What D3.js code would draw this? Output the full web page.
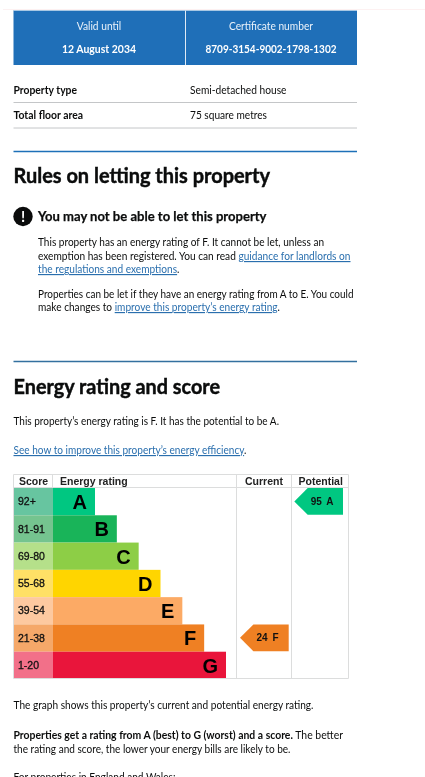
<!DOCTYPE html>
<html><head><meta charset="utf-8">
<script src="https://cdn.jsdelivr.net/npm/d3@7/dist/d3.min.js"></script>
<style>
html,body{margin:0;padding:0;background:#fff;overflow:hidden}
svg{display:block;filter:blur(.35px)}
text{font-family:"Lato",sans-serif;fill:#0b0c0c}
.chart text{font-family:"Liberation Sans",Arial,sans-serif;fill:#111}
</style></head><body>
<script>
const ratingBands = ["A","B","C","D","E","F","G"];
const scoreLabels = ["92+","81-91","69-80","55-68","39-54","21-38","1-20"];
const bandMinScores = [92,81,69,55,39,21,1];
const bandRanks = [1,2,3,4,5,6,7];
const bandColours = ["#00c781","#19b459","#8dce46","#ffd500","#fcaa65","#ef8023","#e9153b"];
const scoreCellColours = ["#67c5a0","#75c48f","#b5e08a","#ffe066","#fdc9a0","#f5a869","#f27089"];
const columnHeaders = ["Score","Energy rating","Current","Potential"];
const currentScore = [24];
const potentialScore = [95];

const svg = d3.select("body").append("svg").attr("width",425).attr("height",777);
const blue="#1d70b8", link="#2a6fae", rule="#c4c6c8", S=11.6;

function T(parts,x,y,size,width,o={}){
  if(typeof parts==="string") parts=[{s:parts,bold:o.bold,link:o.link}];
  const t=svg.append("text").attr("x",x).attr("y",y).attr("font-size",size).attr("text-anchor",o.anchor||"start");
  parts.forEach(p=>{
    const sp=t.append("tspan").attr("font-weight",p.bold?700:400).text(p.s);
    if(p.link) sp.style("fill",link).attr("text-decoration","underline");
    if(o.fill) sp.style("fill",o.fill);
  });
  if(width) t.attr("textLength",width).attr("lengthAdjust","spacingAndGlyphs");
  if(o.heavy) t.style("stroke","#0b0c0c").style("stroke-width",o.heavy);
  return t;
}
function H(x1,x2,y,c,w){svg.append("line").attr("x1",x1).attr("x2",x2).attr("y1",y).attr("y2",y).attr("stroke",c).attr("stroke-width",w);}

// top strip and certificate panel
H(3,425,9.5,"#fdf1f1",1);
svg.append("rect").attr("x",13.5).attr("y",10.5).attr("width",343.5).attr("height",54.5).attr("fill","#1f6fb8");
H(13.5,357,10.5,"#a8c8e4",1);
svg.append("line").attr("x1",185.5).attr("x2",185.5).attr("y1",10.5).attr("y2",65).attr("stroke","#dfeaf5").attr("stroke-width",1);
T("Valid until",99,30,S,44.5,{anchor:"middle",fill:"#eaf2fa"});
T("12 August 2034",99,52.5,S,74,{anchor:"middle",bold:true,fill:"#fff"});
T("Certificate number",271,30,S,84,{anchor:"middle",fill:"#eaf2fa"});
T("8709-3154-9002-1798-1302",271,52.5,S,131,{anchor:"middle",bold:true,fill:"#fff"});

// summary list
T("Property type",13.5,94,S,63.5,{bold:true});
T("Semi-detached house",190,94,S,96.5);
H(13.5,357,102.5,rule,1);
T("Total floor area",13.5,119,S,69.5,{bold:true});
T("75 square metres",190,119,S,77);
H(13.5,357,128,rule,1);

// Rules section
H(13.5,357,151.5,blue,1.6);
T("Rules on letting this property",13.5,183,21,256.5,{bold:true,heavy:.45});
svg.append("circle").attr("cx",23).attr("cy",216.5).attr("r",9.7).attr("fill","#0b0c0c");
T("!",23,222,15,null,{bold:true,anchor:"middle",fill:"#fff"});
T("You may not be able to let this property",38,221,13.5,228.5,{bold:true,heavy:.25});
T("This property has an energy rating of F. It cannot be let, unless an",38,246,S,286);
T([{s:"exemption has been registered. You can read "},{s:"guidance for landlords on",link:true}],38,260,S,312.5);
T([{s:"the regulations and exemptions",link:true},{s:"."}],38,273,S,141.5);
T("Properties can be let if they have an energy rating from A to E. You could",38,297.5,S,315.5);
T([{s:"make changes to "},{s:"improve this property\u2019s energy rating",link:true},{s:"."}],38,311,S,242);

// Energy section
H(13.5,357,361.5,"#33709f",1.4);
T("Energy rating and score",13.5,394,21,206.5,{bold:true,heavy:.45});
T("This property\u2019s energy rating is F. It has the potential to be A.",13.5,425,S,265.5);
T([{s:"See how to improve this property\u2019s energy efficiency",link:true},{s:"."}],13.5,454,S,233);

// EPC chart
const chart=svg.append("g").attr("class","chart");
const y=d3.scaleBand().domain(ratingBands).range([488,679]);
const x=d3.scaleLinear().domain([1,7]).range([95,226]);
const bandOf=d3.scaleThreshold().domain(bandMinScores.slice().reverse().slice(1)).range(ratingBands.slice().reverse());
const grid="#dcdddd";
const colX=[13.5,52.5,236.5,291.5,348.5];

chart.selectAll(".cell").data(ratingBands).join("rect").attr("class","cell")
  .attr("x",14).attr("width",39).attr("y",d=>y(d)).attr("height",y.bandwidth())
  .attr("fill",(d,i)=>scoreCellColours[i]);
chart.selectAll(".bar").data(ratingBands).join("rect").attr("class","bar")
  .attr("x",53).attr("y",d=>y(d)).attr("height",y.bandwidth())
  .attr("width",(d,i)=>x(bandRanks[i])-53).attr("fill",(d,i)=>bandColours[i]);
chart.selectAll(".score").data(scoreLabels).join("text").attr("class","score")
  .attr("x",18).attr("y",(d,i)=>y(ratingBands[i])+y.bandwidth()/2+3.6)
  .attr("font-size",10.5).attr("font-weight",400).style("stroke","#111").style("stroke-width",.3).text(d=>d);
chart.selectAll(".letter").data(ratingBands).join("text").attr("class","letter")
  .attr("x",(d,i)=>x(bandRanks[i])-8).attr("y",d=>y(d)+y.bandwidth()/2+7.3)
  .attr("text-anchor","end").attr("font-size",20).attr("font-weight",700).style("fill","#000").text(d=>d);

[0,2,3,4].forEach(i=>chart.append("line").attr("x1",colX[i]).attr("x2",colX[i]).attr("y1",474.5).attr("y2",678.5).attr("stroke",grid));
chart.append("line").attr("x1",52.5).attr("x2",52.5).attr("y1",474.5).attr("y2",488).attr("stroke",grid);
[474.5,487.5,678.5].forEach(v=>chart.append("line").attr("x1",13.5).attr("x2",348.5).attr("y1",v).attr("y2",v).attr("stroke",grid));

const headX=[19,60,245,298.5];
chart.selectAll(".head").data(columnHeaders).join("text").attr("class","head")
  .attr("x",(d,i)=>headX[i]).attr("y",485).attr("font-size",10.5).attr("font-weight",700).style("fill","#222").text(d=>d);

function pointer(score,tip,right){
  const band=bandOf(score), i=ratingBands.indexOf(band), top=y(band), h=y.bandwidth()-.5, n=13.4;
  chart.append("path").datum([[tip,top+h/2],[tip+n,top],[right,top],[right,top+h],[tip+n,top+h]])
    .attr("d",d3.line().curve(d3.curveLinearClosed)).attr("fill",bandColours[i]);
  chart.append("text").attr("x",tip+16.5).attr("y",top+h/2+3.4).attr("font-size",10).attr("font-weight",700)
    .style("word-spacing","2px").text(score+" "+band);
}
pointer(currentScore[0],240,288.7);
pointer(potentialScore[0],294.3,343);

// closing text
T("The graph shows this property\u2019s current and potential energy rating.",13.5,708.5,S,300);
T([{s:"Properties get a rating from A (best) to G (worst) and a score.",bold:true},{s:" The better"}],13.5,739,S,329.5);
T("the rating and score, the lower your energy bills are likely to be.",13.5,752.5,S,277);
T("For properties in England and Wales:",13.5,781,S,162);
</script>
</body></html>
